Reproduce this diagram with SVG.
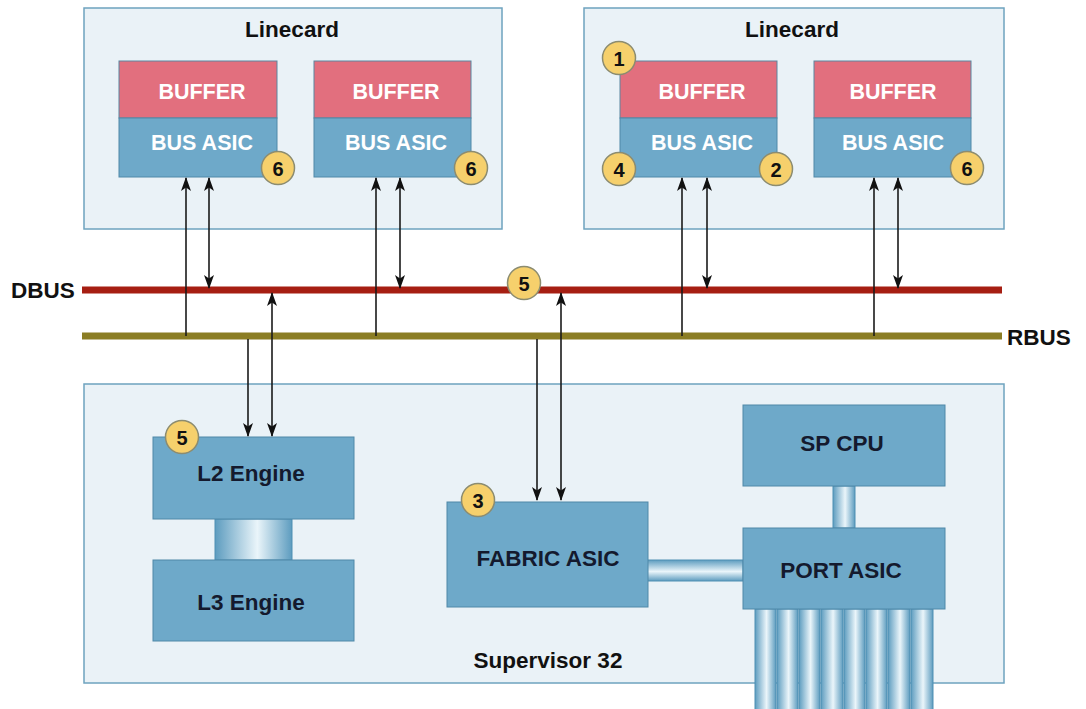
<svg xmlns="http://www.w3.org/2000/svg" width="1086" height="709" viewBox="0 0 1086 709">
<defs>
<style>
text{font-family:"Liberation Sans",Arial,sans-serif;font-weight:bold;text-anchor:middle;dominant-baseline:central}
.card{fill:#eaf2f7;stroke:#6ea3bf;stroke-width:1.5}
.buf{fill:#e26f7e;stroke:#5a86a0;stroke-width:1}
.asic{fill:#6ea9c9;stroke:#4f88a8;stroke-width:1}
.wt{fill:#ffffff;font-size:21.5px}
.dk{fill:#141a2e;font-size:22.5px}
.ttl{fill:#111;font-size:22.5px}
.badge{fill:#f6d06c;stroke:#8c8c70;stroke-width:1.5}
.bt{fill:#111;font-size:20px}
.ar{stroke:#1a1a1a;stroke-width:1.6;fill:none}
.tube{stroke:#4f8fb3;stroke-width:1}
</style>
<marker id="ah" viewBox="0 0 14 10" refX="13" refY="5" markerWidth="14" markerHeight="10" markerUnits="userSpaceOnUse" orient="auto-start-reverse">
<path d="M0,0 L14,5 L0,10 L3.5,5 z" fill="#111"/>
</marker>
<linearGradient id="gv" x1="0" y1="0" x2="1" y2="0">
<stop offset="0" stop-color="#5d9cbf"/>
<stop offset="0.55" stop-color="#eaf5fa"/>
<stop offset="1" stop-color="#5d9cbf"/>
</linearGradient>
<linearGradient id="gh" x1="0" y1="0" x2="0" y2="1">
<stop offset="0" stop-color="#5d9cbf"/>
<stop offset="0.55" stop-color="#eaf5fa"/>
<stop offset="1" stop-color="#5d9cbf"/>
</linearGradient>
</defs>
<rect width="1086" height="709" fill="#ffffff"/>

<g id="linecard-left">
<rect class="card" x="84" y="8" width="418" height="221"/>
<text class="ttl" x="292" y="29">Linecard</text>
</g>
<g id="lc1-asic1">
<rect class="buf" x="119" y="61" width="158" height="57"/>
<rect class="asic" x="119" y="118" width="158" height="59"/>
<text class="wt" x="202" y="92">BUFFER</text>
<text class="wt" x="202" y="143">BUS ASIC</text>
<circle class="badge" cx="278" cy="168" r="16.5"/><text class="bt" x="278" y="169">6</text>
</g>
<g id="lc1-asic2">
<rect class="buf" x="314" y="61" width="157" height="57"/>
<rect class="asic" x="314" y="118" width="157" height="59"/>
<text class="wt" x="396" y="92">BUFFER</text>
<text class="wt" x="396" y="143">BUS ASIC</text>
<circle class="badge" cx="471" cy="168" r="16.5"/><text class="bt" x="471" y="169">6</text>
</g>

<g id="linecard-right">
<rect class="card" x="584" y="8" width="420" height="221"/>
<text class="ttl" x="792" y="29">Linecard</text>
</g>
<g id="lc2-asic1">
<rect class="buf" x="620" y="61" width="157" height="57"/>
<rect class="asic" x="620" y="118" width="157" height="59"/>
<text class="wt" x="702" y="92">BUFFER</text>
<text class="wt" x="702" y="143">BUS ASIC</text>
<circle class="badge" cx="619" cy="58" r="16.5"/><text class="bt" x="619" y="59">1</text>
<circle class="badge" cx="619" cy="169" r="16.5"/><text class="bt" x="619" y="170">4</text>
<circle class="badge" cx="776" cy="169" r="16.5"/><text class="bt" x="776" y="170">2</text>
</g>
<g id="lc2-asic2">
<rect class="buf" x="814" y="61" width="157" height="57"/>
<rect class="asic" x="814" y="118" width="157" height="59"/>
<text class="wt" x="893" y="92">BUFFER</text>
<text class="wt" x="893" y="143">BUS ASIC</text>
<circle class="badge" cx="967" cy="168" r="16.5"/><text class="bt" x="967" y="169">6</text>
</g>

<g id="supervisor">
<rect class="card" x="84" y="384" width="920" height="299"/>
<text class="ttl" x="548" y="660">Supervisor 32</text>
</g>

<g id="buses">
<line x1="82" y1="290" x2="1002" y2="290" stroke="#a61e12" stroke-width="7"/>
<line x1="82" y1="336" x2="1002" y2="336" stroke="#8b7d24" stroke-width="7"/>
<text class="ttl" x="43" y="290">DBUS</text>
<text class="ttl" x="1039" y="337">RBUS</text>
<circle class="badge" cx="524" cy="283" r="16.5"/><text class="bt" x="524" y="284">5</text>
</g>

<g id="tubes">
<rect x="215" y="519" width="77" height="41" fill="url(#gv)" class="tube"/>
<rect x="833" y="486" width="22" height="42" fill="url(#gv)" class="tube"/>
<rect x="647" y="560" width="96" height="21" fill="url(#gh)" class="tube"/>
<rect x="755" y="609" width="21" height="102" fill="url(#gv)" class="tube"/>
<rect x="777" y="609" width="21" height="102" fill="url(#gv)" class="tube"/>
<rect x="799" y="609" width="21" height="102" fill="url(#gv)" class="tube"/>
<rect x="821" y="609" width="22" height="102" fill="url(#gv)" class="tube"/>
<rect x="844" y="609" width="21" height="102" fill="url(#gv)" class="tube"/>
<rect x="866" y="609" width="21" height="102" fill="url(#gv)" class="tube"/>
<rect x="888" y="609" width="22" height="102" fill="url(#gv)" class="tube"/>
<rect x="911" y="609" width="22" height="102" fill="url(#gv)" class="tube"/>
</g>

<g id="l2-engine">
<rect class="asic" x="153" y="437" width="201" height="82"/>
<text class="dk" x="251" y="473">L2 Engine</text>
<circle class="badge" cx="182" cy="437" r="16.5"/><text class="bt" x="182" y="438">5</text>
</g>
<g id="l3-engine">
<rect class="asic" x="153" y="560" width="201" height="81"/>
<text class="dk" x="251" y="602">L3 Engine</text>
</g>
<g id="fabric-asic">
<rect class="asic" x="447" y="502" width="201" height="105"/>
<text class="dk" x="548" y="558">FABRIC ASIC</text>
<circle class="badge" cx="478" cy="500" r="16.5"/><text class="bt" x="478" y="501">3</text>
</g>
<g id="sp-cpu">
<rect class="asic" x="743" y="405" width="202" height="81"/>
<text class="dk" x="842" y="443">SP CPU</text>
</g>
<g id="port-asic">
<rect class="asic" x="743" y="528" width="202" height="81"/>
<text class="dk" x="841" y="570">PORT ASIC</text>
</g>

<g id="connectors">
<line class="ar" x1="186" y1="336" x2="186" y2="178" marker-end="url(#ah)"/>
<line class="ar" x1="209" y1="178" x2="209" y2="288" marker-start="url(#ah)" marker-end="url(#ah)"/>
<line class="ar" x1="376" y1="336" x2="376" y2="178" marker-end="url(#ah)"/>
<line class="ar" x1="400" y1="178" x2="400" y2="288" marker-start="url(#ah)" marker-end="url(#ah)"/>
<line class="ar" x1="682" y1="336" x2="682" y2="178" marker-end="url(#ah)"/>
<line class="ar" x1="707" y1="178" x2="707" y2="288" marker-start="url(#ah)" marker-end="url(#ah)"/>
<line class="ar" x1="874" y1="336" x2="874" y2="178" marker-end="url(#ah)"/>
<line class="ar" x1="898" y1="178" x2="898" y2="288" marker-start="url(#ah)" marker-end="url(#ah)"/>
<line class="ar" x1="248" y1="339" x2="248" y2="436" marker-end="url(#ah)"/>
<line class="ar" x1="272" y1="293" x2="272" y2="436" marker-start="url(#ah)" marker-end="url(#ah)"/>
<line class="ar" x1="537" y1="339" x2="537" y2="500" marker-end="url(#ah)"/>
<line class="ar" x1="561" y1="293" x2="561" y2="500" marker-start="url(#ah)" marker-end="url(#ah)"/>
</g>
</svg>
